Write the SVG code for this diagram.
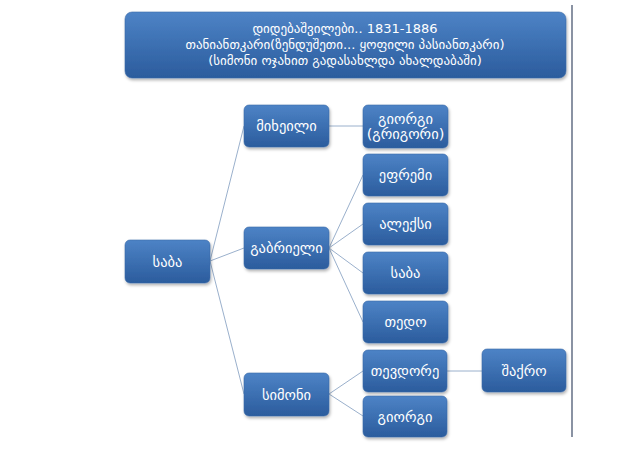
<svg xmlns="http://www.w3.org/2000/svg" width="640" height="450" viewBox="0 0 640 450">
<style>
.n rect{fill:url(#g);stroke:#3a6aa8;stroke-width:0.6;filter:url(#sh)}
.n text{fill:#fff;font-family:"DejaVu Sans",sans-serif;font-size:14.5px;text-anchor:middle;dominant-baseline:central}
.t text{fill:#fff;font-family:"DejaVu Sans",sans-serif;font-size:13px;text-anchor:middle;dominant-baseline:auto}
#conn line{stroke:#9ab0cc;stroke-width:1}
</style>
<defs>
<linearGradient id="g" x1="0" y1="0" x2="0" y2="1">
<stop offset="0" stop-color="#4d83c6"/>
<stop offset="1" stop-color="#2b5c9d"/>
</linearGradient>
<filter id="sh" x="-10%" y="-10%" width="130%" height="140%">
<feDropShadow dx="1" dy="2" stdDeviation="1.5" flood-color="#000" flood-opacity="0.3"/>
</filter>
</defs>
<rect width="640" height="450" fill="#fff"/>
<line x1="572" y1="5" x2="572" y2="437" stroke="#3c4a66" stroke-width="1.2"/>
<g id="conn">
<line x1="210" y1="261" x2="244" y2="126"/>
<line x1="210" y1="261" x2="244" y2="248"/>
<line x1="210" y1="261" x2="244" y2="394"/>
<line x1="329" y1="126" x2="363" y2="126"/>
<line x1="329" y1="248" x2="363" y2="175"/>
<line x1="329" y1="248" x2="363" y2="224"/>
<line x1="329" y1="248" x2="363" y2="273"/>
<line x1="329" y1="248" x2="363" y2="322"/>
<line x1="329" y1="394" x2="363" y2="371"/>
<line x1="329" y1="394" x2="363" y2="416"/>
<line x1="447" y1="371" x2="482" y2="371"/>
</g>
<g id="title" class="n t">
<rect x="125" y="12" width="441" height="66" rx="7"/>
<text x="345" y="33">დიდებაშვილები..  1831-1886</text>
<text x="345" y="49">თანიანთკარი(ზენდუშეთი... ყოფილი პასიანთკარი)</text>
<text x="345" y="65">(სიმონი ოჯახით გადასახლდა ახალდაბაში)</text>
</g>
<g id="saba" class="n"><rect x="125" y="240" width="85" height="43" rx="5"/><text x="167.5" y="261.5">საბა</text></g>
<g id="mikheili" class="n"><rect x="244" y="105" width="85" height="42" rx="5"/><text x="286.5" y="126">მიხეილი</text></g>
<g id="giorgi1" class="n"><rect x="363" y="105" width="85" height="43" rx="5"/><text x="405.5" y="119">გიორგი</text><text x="405.5" y="134">(გრიგორი)</text></g>
<g id="gabrieli" class="n"><rect x="244" y="227" width="85" height="42" rx="5"/><text x="286.5" y="248">გაბრიელი</text></g>
<g id="efremi" class="n"><rect x="363" y="154" width="85" height="42" rx="5"/><text x="405.5" y="175">ეფრემი</text></g>
<g id="aleksi" class="n"><rect x="363" y="203" width="85" height="42" rx="5"/><text x="405.5" y="224">ალექსი</text></g>
<g id="saba2" class="n"><rect x="363" y="252" width="85" height="42" rx="5"/><text x="405.5" y="273">საბა</text></g>
<g id="tedo" class="n"><rect x="363" y="301" width="85" height="42" rx="5"/><text x="405.5" y="322">თედო</text></g>
<g id="simoni" class="n"><rect x="244" y="373" width="85" height="43" rx="5"/><text x="286.5" y="394.5">სიმონი</text></g>
<g id="tevdore" class="n"><rect x="363" y="350" width="84" height="42" rx="5"/><text x="405" y="371">თევდორე</text></g>
<g id="shakro" class="n"><rect x="482" y="349" width="84" height="43" rx="5"/><text x="524" y="370.5">შაქრო</text></g>
<g id="giorgi2" class="n"><rect x="363" y="396" width="84" height="41" rx="5"/><text x="405" y="416.5">გიორგი</text></g>
</svg>
